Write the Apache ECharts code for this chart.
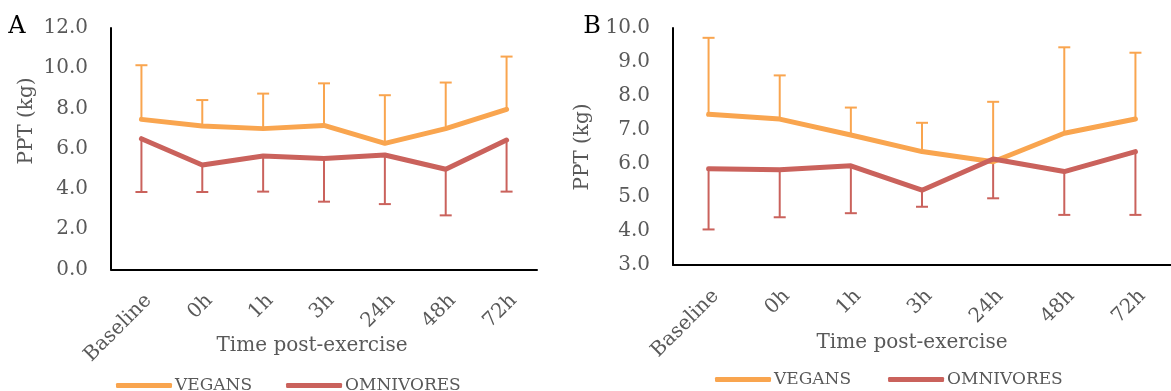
<!DOCTYPE html>
<html>
<head>
<meta charset="utf-8">
<script src="https://cdn.jsdelivr.net/npm/echarts@6/dist/echarts.min.js"></script>
<style>
html,body{margin:0;padding:0;background:#fff;}
#c{width:1171px;height:391px;}
</style>
</head>
<body>
<div id="c"></div>
<script>
var categories = ['Baseline', '0h', '1h', '3h', '24h', '48h', '72h'];

// Panel A
var veganA = [7.46, 7.13, 7.00, 7.16, 6.27, 7.00, 7.96];
var veganA_sd = [2.69, 1.29, 1.74, 2.09, 2.39, 2.29, 2.62];
var omniA = [6.50, 5.19, 5.64, 5.51, 5.69, 4.98, 6.43];
var omniA_sd = [2.65, 1.34, 1.77, 2.14, 2.44, 2.29, 2.56];

// Panel B
var veganB = [7.45, 7.31, 6.84, 6.35, 6.05, 6.89, 7.31];
var veganB_sd = [2.26, 1.29, 0.81, 0.85, 1.77, 2.54, 1.96];
var omniB = [5.84, 5.81, 5.93, 5.21, 6.13, 5.76, 6.35];
var omniB_sd = [1.79, 1.40, 1.40, 0.49, 1.16, 1.28, 1.87];

var ORANGE = '#F9A54F';
var RED = '#CA625C';
var TXT = '#595959';
var FONT = 'DejaVu Serif';

function errData(mean, sd, dir) {
  return mean.map(function (m, i) { return [i, m, m + dir * sd[i]]; });
}
function errSeries(idx, data, color) {
  return {
    type: 'custom', xAxisIndex: idx, yAxisIndex: idx, silent: true,
    data: data, encode: { x: 0, y: [1, 2] }, z: 2,
    renderItem: function (params, api) {
      var p1 = api.coord([api.value(0), api.value(1)]);
      var p2 = api.coord([api.value(0), api.value(2)]);
      var st = { stroke: color, lineWidth: 2 };
      return { type: 'group', children: [
        { type: 'line', shape: { x1: p1[0], y1: p1[1], x2: p2[0], y2: p2[1] }, style: st },
        { type: 'line', shape: { x1: p2[0] - 6, y1: p2[1], x2: p2[0] + 6, y2: p2[1] }, style: st }
      ]};
    }
  };
}
function lineSeries(idx, name, data, color) {
  return {
    type: 'line', name: name, xAxisIndex: idx, yAxisIndex: idx, data: data,
    symbol: 'none', z: 3, color: color,
    lineStyle: { color: color, width: 5, cap: 'round', join: 'round' }
  };
}
function xAx(idx) {
  return {
    type: 'category', gridIndex: idx, data: categories, boundaryGap: true,
    axisLine: { lineStyle: { color: '#000', width: 2 } },
    axisTick: { show: false },
    axisLabel: { rotate: 45, margin: 21, fontFamily: FONT, fontSize: 20, color: TXT,
                 interval: 0, verticalAlign: 'top', align: 'right' },
    splitLine: { show: false }
  };
}
function yAx(idx, min, max, interval) {
  return {
    type: 'value', gridIndex: idx, min: min, max: max, interval: interval,
    axisLine: { show: true, lineStyle: { color: '#000', width: 2 } },
    axisTick: { show: false },
    splitLine: { show: false },
    axisLabel: { margin: 23, fontFamily: FONT, fontSize: 20, color: TXT,
                 formatter: function (v) { return v.toFixed(1); } }
  };
}
function legendAt(left, top, gap) {
  return {
    left: left, top: top, itemGap: gap, itemWidth: 56, itemHeight: 5, icon: 'roundRect',
    data: ['VEGANS', 'OMNIVORES'],
    textStyle: { fontFamily: FONT, fontSize: 17, color: TXT, lineHeight: 17, padding: [0, 0, 0, -2] }
  };
}
function txt(x, y, s, size, color, rot) {
  return { type: 'text', x: x, y: y, rotation: rot || 0,
    style: { text: s, fontFamily: FONT, fontSize: size, fill: color, align: 'center', verticalAlign: 'middle' } };
}

var chart = echarts.init(document.getElementById('c'), null, { renderer: 'canvas' });
chart.setOption({
  animation: false,
  backgroundColor: '#fff',
  grid: [
    { left: 111, right: 634, top: 28, bottom: 121.5 },
    { left: 673, right: -15, top: 28, bottom: 126 }
  ],
  xAxis: [xAx(0), xAx(1)],
  yAxis: [yAx(0, 0, 12, 2), yAx(1, 3, 10, 1)],
  legend: [legendAt(111, 372, 34), legendAt(710, 366, 37)],
  graphic: [
    txt(17, 27, 'A', 24, '#000'),
    txt(592, 27, 'B', 24, '#000'),
    txt(27, 121, 'PPT (kg)', 20, TXT, Math.PI / 2),
    txt(583, 147, 'PPT (kg)', 20, TXT, Math.PI / 2),
    txt(312, 346, 'Time post-exercise', 20, TXT),
    txt(912, 343, 'Time post-exercise', 20, TXT)
  ],
  series: [
    errSeries(0, errData(veganA, veganA_sd, 1), ORANGE),
    lineSeries(0, 'VEGANS', veganA, ORANGE),
    errSeries(0, errData(omniA, omniA_sd, -1), RED),
    lineSeries(0, 'OMNIVORES', omniA, RED),
    errSeries(1, errData(veganB, veganB_sd, 1), ORANGE),
    lineSeries(1, 'VEGANS', veganB, ORANGE),
    errSeries(1, errData(omniB, omniB_sd, -1), RED),
    lineSeries(1, 'OMNIVORES', omniB, RED)
  ]
});
</script>
</body>
</html>
